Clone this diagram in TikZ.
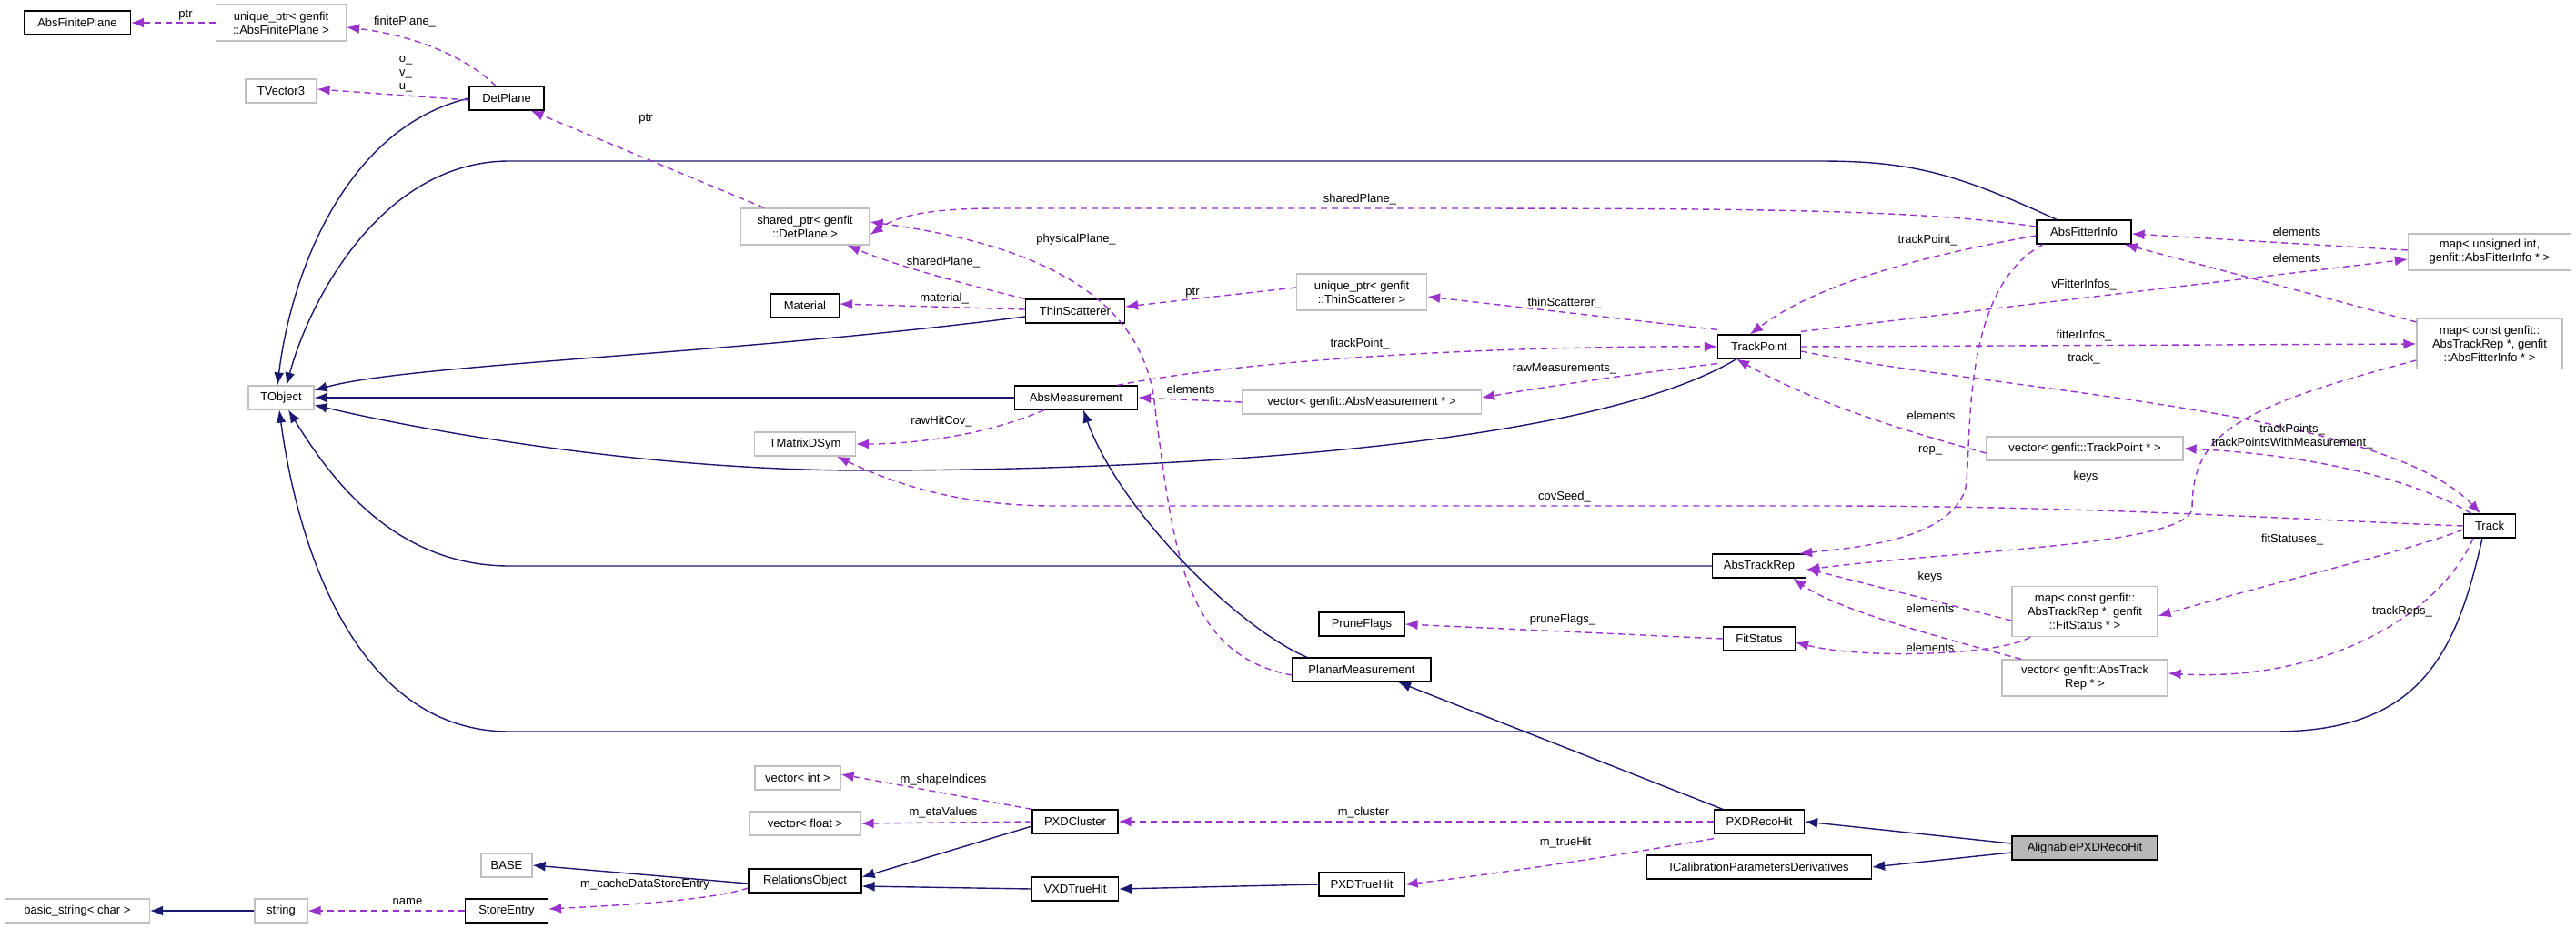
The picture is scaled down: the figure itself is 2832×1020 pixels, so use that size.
\documentclass[tikz,border=0pt]{standalone}
\usepackage{fontspec}
\setmainfont{Liberation Sans}
\usetikzlibrary{arrows.meta}
\definecolor{navy}{HTML}{191970}
\definecolor{purp}{HTML}{9A32CD}
\definecolor{gborder}{HTML}{BFBFBF}
\tikzset{
 box/.style={draw, line width=1.2pt, inner sep=2pt, align=center, font=\fontsize{13}{15}\selectfont},
 cls/.style={box, draw=black},
 ext/.style={box, draw=gborder},
 inh/.style={navy, line width=1.4pt, -{Latex[length=14pt,width=11pt]}},
 use/.style={purp, line width=1.4pt, dash pattern=on 7pt off 5pt, -{Latex[length=14pt,width=11pt]}},
 lbl/.style={font=\fontsize{13}{15}\selectfont, inner sep=0pt, align=center},
}
\begin{document}
\begin{tikzpicture}[x=1pt,y=-1pt]
\useasboundingbox (0,0) rectangle (2832,1020);
\def\N#1#2#3#4#5#6#7{\node[#1, minimum width=#5pt, minimum height=#6pt] (#2) at (#3,#4) {#7};}
\N{cls}{afp}{85}{25}{117}{26}{AbsFinitePlane}
\N{ext}{uafp}{309}{25}{143}{40}{unique\_ptr< genfit\\::AbsFinitePlane >}
\N{ext}{tv3}{309}{100}{78}{26}{TVector3}
\N{cls}{detp}{557}{108}{82}{26}{DetPlane}
\N{ext}{tobj}{309}{437}{72}{26}{TObject}
\N{ext}{sptr}{885}{249}{142}{40}{shared\_ptr< genfit\\::DetPlane >}
\N{cls}{mat}{885}{336}{75}{26}{Material}
\N{ext}{tmds}{885}{488}{111}{26}{TMatrixDSym}
\N{ext}{vint}{877}{855}{94}{26}{vector< int >}
\N{ext}{vflt}{885}{905}{122}{26}{vector< float >}
\N{ext}{base}{557}{951}{56}{26}{BASE}
\N{cls}{relo}{885}{968}{124}{26}{RelationsObject}
\N{ext}{bstr}{85}{1001}{159}{26}{basic\_string< char >}
\N{ext}{str}{309}{1001}{58}{26}{string}
\N{cls}{stent}{557}{1001}{91}{26}{StoreEntry}
\N{cls}{thin}{1182}{342}{109}{26}{ThinScatterer}
\N{cls}{absm}{1183}{437}{135}{26}{AbsMeasurement}
\N{ext}{uts}{1497}{321}{143}{40}{unique\_ptr< genfit\\::ThinScatterer >}
\N{ext}{vam}{1497}{442}{263}{26}{vector< genfit::AbsMeasurement * >}
\N{cls}{afi}{2291}{255}{104}{26}{AbsFitterInfo}
\N{ext}{mui}{2737}{277}{179}{40}{map< unsigned int,\\ genfit::AbsFitterInfo * >}
\N{cls}{tp}{1934}{381}{91}{26}{TrackPoint}
\N{ext}{mfi}{2737}{378}{160}{55}{map< const genfit::\\AbsTrackRep *, genfit\\::AbsFitterInfo * >}
\N{ext}{vtp}{2292}{493}{216}{26}{vector< genfit::TrackPoint * >}
\N{cls}{track}{2737}{578}{57}{26}{Track}
\N{cls}{atr}{1934}{622}{103}{26}{AbsTrackRep}
\N{cls}{prune}{1497}{686}{94}{26}{PruneFlags}
\N{cls}{fits}{1934}{702}{79}{26}{FitStatus}
\N{ext}{mfs}{2292}{672}{160}{55}{map< const genfit::\\AbsTrackRep *, genfit\\::FitStatus * >}
\N{ext}{vatr}{2292}{745}{182}{40}{vector< genfit::AbsTrack\\Rep * >}
\N{cls}{planar}{1497}{736}{152}{26}{PlanarMeasurement}
\N{cls}{pxdc}{1182}{903}{94}{26}{PXDCluster}
\N{cls}{pxdr}{1934}{903}{99}{26}{PXDRecoHit}
\node[cls, fill=gray!55, minimum width=160pt, minimum height=26pt] (align) at (2292,932) {AlignablePXDRecoHit};
\N{cls}{ical}{1934}{953}{247}{26}{ICalibrationParametersDerivatives}
\N{cls}{pxdt}{1497}{972}{94}{26}{PXDTrueHit}
\N{cls}{vxdt}{1182}{977}{95}{26}{VXDTrueHit}

% inheritance
\draw[inh] (detp.west) .. controls (380,140) and (320,300) .. ([xshift=-4]tobj.north);
\draw[inh] ([xshift=-30]afi.north) .. controls (2150,190) and (2100,177) .. (2000,177) -- (560,177) .. controls (420,177) and (340,330) .. ([xshift=6]tobj.north);
\draw[inh] ([yshift=-6]thin.west) .. controls (800,390) and (450,400) .. ([yshift=8]tobj.east);
\draw[inh] (absm.west) -- (tobj.east);
\draw[inh] ([xshift=-25]tp.south) .. controls (1750,490) and (1300,517) .. (950,517) .. controls (700,517) and (450,470) .. ([yshift=-8]tobj.east);
\draw[inh] (atr.west) -- (560,622) .. controls (430,622) and (360,520) .. ([xshift=8]tobj.south);
\draw[inh] ([xshift=-8]track.south) .. controls (2700,720) and (2660,804) .. (2500,804) -- (560,804) .. controls (400,804) and (330,620) .. ([xshift=-2]tobj.south);
\draw[inh] ([xshift=-60]planar.north) .. controls (1360,690) and (1230,560) .. ([xshift=8]absm.south);
\draw[inh] ([xshift=-40]pxdr.north) -- ([xshift=40]planar.south);
\draw[inh] ([yshift=5]align.west) -- (pxdr.east);
\draw[inh] ([yshift=-5]align.west) -- (ical.east);
\draw[inh] ([yshift=-5]pxdc.west) -- ([yshift=4]relo.east);
\draw[inh] (vxdt.west) -- ([yshift=-6]relo.east);
\draw[inh] (pxdt.west) -- (vxdt.east);
\draw[inh] ([yshift=-3]relo.west) -- (base.east);
\draw[inh] (str.west) -- (bstr.east);

% usage
\draw[use] (uafp.west) -- (afp.east);
\node[lbl] (l1) at (204,17) {ptr};
\draw[use] ([xshift=-12]detp.north) .. controls (510,60) and (450,38) .. ([yshift=-5]uafp.east);
\node[lbl] (l2) at (445,24) {finitePlane\_};
\draw[use] ([yshift=-2]detp.west) -- ([yshift=2]tv3.east);
\node[lbl] (l3) at (446,81) {o\_\\v\_\\u\_};
\draw[use] ([xshift=-45]sptr.north) -- ([xshift=-15]detp.south east);
\node[lbl] (l4) at (710,131) {ptr};
\draw[use] ([yshift=6]afi.west) .. controls (2100,229) and (1900,229) .. (1500,229) -- (1100,229) .. controls (1030,229) and (990,235) .. ([yshift=-9]sptr.east);
\node[lbl] (l5) at (1495,219) {sharedPlane\_};
\draw[use] ([yshift=-6]planar.west) .. controls (1300,720) and (1290,600) .. (1270,450) .. controls (1260,330) and (1150,270) .. ([yshift=5]sptr.east);
\node[lbl] (l6) at (1183,263) {physicalPlane\_};
\draw[use] (thin.north west) .. controls (1050,310) and (980,290) .. ([xshift=-25]sptr.south east);
\node[lbl] (l7) at (1037,288) {sharedPlane\_};
\draw[use] ([yshift=2]thin.west) -- ([yshift=2]mat.east);
\node[lbl] (l8) at (1038,328) {material\_};
\draw[use] ([yshift=5]uts.west) -- ([yshift=5]thin.east);
\node[lbl] (l9) at (1311,322) {ptr};
\draw[use] ([yshift=5]tp.north west) -- ([yshift=-5]uts.east);
\node[lbl] (l10) at (1720,333) {thinScatterer\_};
\draw[use] ([xshift=45]absm.north) .. controls (1400,390) and (1700,380) .. (tp.west);
\node[lbl] (l11) at (1495,378) {trackPoint\_};
\draw[use] ([yshift=-5]tp.south west) .. controls (1800,410) and (1700,425) .. ([yshift=5]vam.east);
\node[lbl] (l12) at (1720,405) {rawMeasurements\_};
\draw[use] (vam.west) -- (absm.east);
\node[lbl] (l13) at (1309,428) {elements};
\draw[use] ([xshift=-35]absm.south) .. controls (1080,480) and (1000,488) .. (tmds.east);
\node[lbl] (l14) at (1035,463) {rawHitCov\_};
\draw[use] (track.west) .. controls (2500,570) and (2300,556) .. (2000,556) -- (1160,556) .. controls (1050,556) and (980,530) .. ([xshift=35]tmds.south);
\node[lbl] (l15) at (1720,546) {covSeed\_};
\draw[use] ([yshift=-4]afi.west) .. controls (2120,280) and (2000,310) .. ([xshift=-10]tp.north);
\node[lbl] (l16) at (2119,264) {trackPoint\_};
\draw[use] ([xshift=-45]afi.south) .. controls (2150,320) and (2170,500) .. (2160,540) .. controls (2140,590) and (2060,600) .. ([xshift=-8]atr.north east);
\node[lbl] (l17) at (2122,495) {rep\_};
\draw[use] ([yshift=3]tp.north east) -- ([yshift=-8]mui.west);
\node[lbl] (l18) at (2291,313) {vFitterInfos\_};
\draw[use] ([yshift=2]mui.west) -- ([yshift=-2]afi.east);
\node[lbl] (l19) at (2525,255) {elements};
\draw[use] ([yshift=-4]mfi.north west) -- ([xshift=-8]afi.south east);
\node[lbl] (l20) at (2525,284) {elements};
\draw[use] (tp.east) -- (mfi.west);
\node[lbl] (l21) at (2291,369) {fitterInfos\_};
\draw[use] ([yshift=-5]tp.east) .. controls (2200,430) and (2620,450) .. ([xshift=-10]track.north);
\node[lbl] (l23) at (2291,394) {track\_};
\draw[use] ([yshift=-18]mfi.west) .. controls (2450,450) and (2410,480) .. (2410,560) .. controls (2400,600) and (2150,605) .. ([yshift=-4]atr.east);
\node[lbl] (l22) at (2293,524) {keys};
\draw[use] ([yshift=-5]vtp.west) .. controls (2080,470) and (1990,440) .. ([xshift=-25]tp.south);
\node[lbl] (l24) at (2123,457) {elements};
\draw[use] ([xshift=-20]track.north) .. controls (2660,530) and (2550,500) .. (vtp.east);
\node[lbl] (l25) at (2520,480) {trackPoints\_\\trackPointsWithMeasurement\_};
\draw[use] ([yshift=-4]track.west) .. controls (2650,605) and (2500,640) .. ([yshift=-5]mfs.east);
\node[lbl] (l26) at (2520,593) {fitStatuses\_};
\draw[use] ([xshift=-18]track.south) .. controls (2680,680) and (2550,750) .. ([yshift=5]vatr.east);
\node[lbl] (l27) at (2641,672) {trackReps\_};
\draw[use] ([yshift=-10]mfs.west) -- ([yshift=-3]atr.east);
\node[lbl] (l28) at (2122,634) {keys};
\draw[use] ([xshift=-70]vatr.north) .. controls (2130,700) and (2020,670) .. ([xshift=-15]atr.south east);
\node[lbl] (l29) at (2122,669) {elements};
\draw[use] ([xshift=-60]mfs.south) .. controls (2200,720) and (2050,725) .. ([yshift=-4]fits.east);
\node[lbl] (l30) at (2122,712) {elements};
\draw[use] (fits.west) -- (prune.east);
\node[lbl] (l31) at (1718,681) {pruneFlags\_};
\draw[use] (pxdr.west) -- (pxdc.east);
\node[lbl] (l32) at (1499,893) {m\_cluster};
\draw[use] ([yshift=-5]pxdr.south west) .. controls (1780,940) and (1650,960) .. (pxdt.east);
\node[lbl] (l33) at (1721,926) {m\_trueHit};
\draw[use] (pxdc.north west) -- ([yshift=4]vint.east);
\node[lbl] (l34) at (1037,857) {m\_shapeIndices};
\draw[use] (pxdc.west) -- (vflt.east);
\node[lbl] (l35) at (1037,893) {m\_etaValues};
\draw[use] ([yshift=-8]relo.west) .. controls (780,990) and (680,995) .. ([yshift=2]stent.east);
\node[lbl] (l36) at (709,972) {m\_cacheDataStoreEntry};
\draw[use] (stent.west) -- (str.east);
\node[lbl] (l37) at (448,991) {name};
\end{tikzpicture}
\end{document}
